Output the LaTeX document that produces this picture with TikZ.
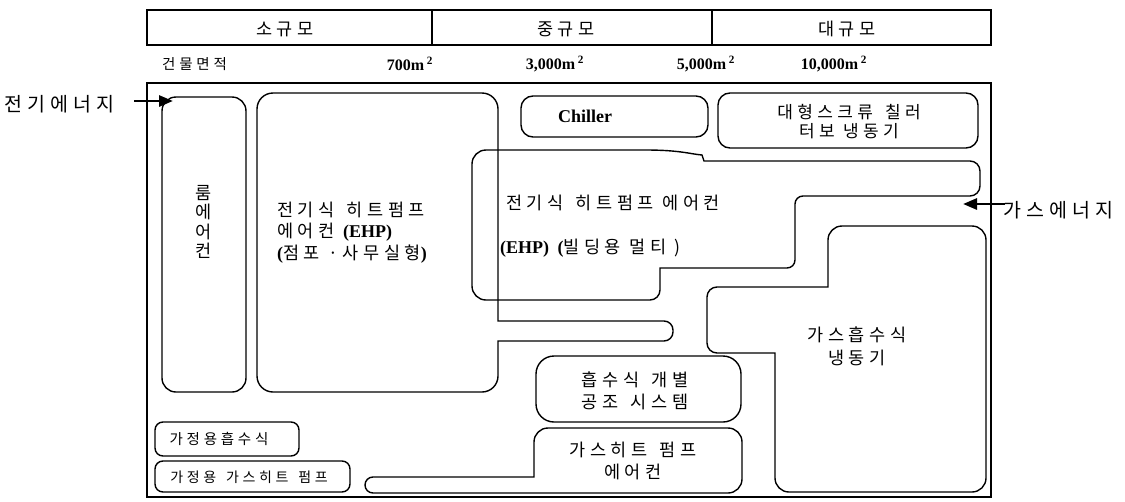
\documentclass[tikz,border=0pt]{standalone}
\usepackage{fontspec}
\setmainfont{Liberation Serif}
\newfontfamily\kr[LetterSpace=26]{Noto Sans CJK KR}
\usetikzlibrary{arrows.meta}
\newcommand\latb[1]{{\rmfamily\bfseries\fontsize{18}{20}\selectfont #1}}
\newcommand\kgap{\hspace{0.7em}}
\begin{document}
\begin{tikzpicture}[x=1pt,y=-1pt,
  frame/.style={draw, line width=1.4pt},
  rbox/.style={draw, line width=1.4pt, rounded corners=14pt},
  sbox/.style={draw, line width=1.4pt, rounded corners=8pt},
  ktext/.style={inner sep=0pt, font=\kr\fontsize{17.5}{20}\selectfont},
  ksmall/.style={inner sep=0pt, font=\kr\fontsize{14.5}{17}\selectfont},
  kenergy/.style={inner sep=0pt, font=\kr\fontsize{19.5}{22}\selectfont},
  ltext/.style={inner sep=0pt, font=\bfseries\fontsize{16}{19}\selectfont},
  lbig/.style={inner sep=0pt, font=\bfseries\fontsize{18}{20}\selectfont},
  energy/.style={line width=2.8pt, -{Triangle[length=14pt,width=11pt]}},
]
\useasboundingbox (0,0) rectangle (1125,501);

% header
\draw[frame] (147,10) rectangle (991,45);
\draw[frame] (432,10) -- (432,45);
\draw[frame] (712,10) -- (712,45);
\node[ktext] (hsmall) at (285,29) {소규모};
\node[ktext] (hmid) at (566,29) {중규모};
\node[ktext] (hlarge) at (847,29) {대규모};

% area row
\node[ksmall, anchor=west] (area) at (162,64) {건물면적};
\node[ltext] (a700) at (410,64) {700m\,\textsuperscript{2}};
\node[ltext] (a3000) at (555,64) {3,000m\,\textsuperscript{2}};
\node[ltext] (a5000) at (706,64) {5,000m\,\textsuperscript{2}};
\node[ltext] (a10000) at (834,64) {10,000m\,\textsuperscript{2}};

% main frame
\draw[frame] (147,83) rectangle (991,497);

% room air conditioner
\draw[rbox] (162,97) rectangle (246,392);
\node[ktext, align=center, font=\kr\fontsize{17.5}{19.3}\selectfont] (roomtxt) at (204,222) {룸\\에\\어\\컨};

% store EHP with protrusion
\draw[frame] (257,250) [rounded corners=16pt] -- (257,93) -- (498,93) [sharp corners] -- (498,321) [rounded corners=9pt] -- (673,321) -- (673,341) [sharp corners] -- (498,341) [rounded corners=16pt] -- (498,392) -- (257,392) -- cycle;
\node[ktext, anchor=west] (st1) at (277,210) {전기식\kgap 히트펌프};
\node[ktext, anchor=west] (st2) at (277,232) {에어컨 \latb{(EHP)}};
\node[ktext, anchor=west] (st3) at (277,254) {\latb{(}점포 ·사무실형\latb{)}};

% Chiller
\draw[rbox, rounded corners=12pt] (521,96) rectangle (708,137);
\node[lbig] (chiller) at (585,116) {Chiller};

% large screw chiller
\draw[rbox, rounded corners=12pt] (718,93) rectangle (978,148);
\node[ktext, align=center, font=\kr\fontsize{17}{19}\selectfont] (screw) at (849,121.5) {대형스크류\kgap 칠러\\터보 냉동기};

% building multi EHP
\draw[frame] (472,225) [rounded corners=14pt] -- (472,150) [sharp corners] -- (645,150) .. controls (680,150) and (690,154) .. (702,155) -- (704,161) [rounded corners=10pt] -- (980,161) -- (980,196) [rounded corners=8pt] -- (795,196) -- (795,268) [sharp corners] -- (660,268) [rounded corners=10pt] -- (660,300) [rounded corners=14pt] -- (472,300) -- cycle;
\node[ktext, anchor=west] (mu1) at (506,203) {전기식\kgap 히트펌프 에어컨};
\node[ktext, anchor=west] (mu2) at (500,248) {\latb{(EHP)} \latb{(}빌딩용 멀티 )};

% gas absorption chiller
\draw[frame] (986,350) [rounded corners=14pt] -- (986,492) -- (775,492) [sharp corners] -- (775,353) [rounded corners=10pt] -- (707,353) -- (707,287) [sharp corners] -- (828,287) [rounded corners=14pt] -- (828,226) -- (986,226) -- cycle;
\node[ktext] (gas1) at (857,335) {가스흡수식};
\node[ktext] (gas2) at (857,358) {냉동기};

% absorption individual
\draw[rbox, rounded corners=18pt] (536,356) rectangle (741,422);
\node[ktext] (ab1) at (635,380) {흡수식\kgap 개별};
\node[ktext] (ab2) at (635,402) {공조\kgap 시스템};

% gas heat pump with tail
\draw[frame] (742,460) [rounded corners=14pt] -- (742,493) [rounded corners=8pt] -- (365,493) -- (365,477) [sharp corners] -- (534,477) [rounded corners=14pt] -- (534,428) -- (742,428) -- cycle;
\node[ktext] (ghp1) at (633,450) {가스히트\kgap 펌프};
\node[ktext] (ghp2) at (633,472) {에어컨};

% household
\draw[sbox] (155,422) rectangle (299,456);
\node[ksmall] (home1) at (219,439) {가정용흡수식};
\draw[sbox] (155,461) rectangle (350,492);
\node[ksmall, font=\kr\fontsize{14}{17}\selectfont] (home2) at (249,477) {가정용\kgap 가스히트\kgap 펌프};

% energies
\node[kenergy, anchor=west] (elec) at (4,104) {전기에너지};
\coordinate (eTail) at (134,101);
\coordinate (eTip) at (173,101);
\draw[energy] (eTail) -- (eTip);
\node[kenergy, anchor=west] (gasE) at (1003,210) {가스에너지};
\coordinate (gTail) at (1005,204);
\coordinate (gTip) at (963,204);
\draw[energy] (gTail) -- (gTip);
\end{tikzpicture}
\end{document}
